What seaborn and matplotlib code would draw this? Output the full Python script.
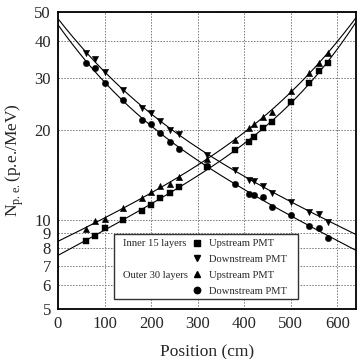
"""Light yield vs. position for inner/outer layers, with double-exponential fits."""

from __future__ import annotations

import matplotlib

matplotlib.use("Agg")
import matplotlib.pyplot as plt  # noqa: E402
import numpy as np  # noqa: E402
import pandas as pd  # noqa: E402
import seaborn as sns  # noqa: E402
from matplotlib.lines import Line2D  # noqa: E402
from matplotlib.patches import Rectangle  # noqa: E402
from matplotlib.ticker import FixedLocator, NullLocator  # noqa: E402

# measured positions along the strip (cm)
POSITIONS = [60, 80, 100, 140, 180, 200, 220, 240, 260, 320,
             380, 410, 420, 440, 460, 500, 540, 560, 580]

# light yield (p.e./MeV)
INNER_UP = [8.5, 8.8, 9.35, 9.97, 10.7, 11.2, 11.85, 12.3, 12.85, 15.0,
            17.2, 18.3, 19.0, 20.3, 21.3, 24.9, 28.8, 31.6, 33.7]
INNER_DOWN = [36.3, 34.7, 31.3, 27.3, 23.8, 22.9, 21.5, 20.1, 19.4, 16.5,
              14.7, 13.6, 13.5, 13.0, 12.3, 11.5, 10.6, 10.45, 9.84]
OUTER_UP = [9.3, 9.9, 10.05, 10.9, 11.8, 12.4, 13.0, 13.2, 13.9, 16.0,
            18.5, 20.3, 21.0, 22.2, 23.1, 27.1, 31.1, 33.7, 36.3]
OUTER_DOWN = [33.7, 32.3, 28.8, 25.3, 21.6, 21.0, 19.5, 18.3, 17.25, 15.2,
              13.2, 12.2, 12.1, 11.9, 11.0, 10.4, 9.5, 9.4, 8.65]

GROUP_LABELS = ["Inner 15 layers", "Outer 30 layers"]
X_TICKS = [0, 100, 200, 300, 400, 500, 600]
Y_TICKS = [5, 6, 7, 8, 9, 10, 20, 30, 40, 50]
X_RANGE = (0, 640)
Y_RANGE = (5, 50)

W, H = 357, 359
AX_BOX = (58, 12, 356, 309)  # left, top, right, bottom in pixels


def fit_double_exp(x, y, rising):
    """Least-squares fit of A*exp(-d/l1) + B*exp(-d/l2), d = distance to PMT."""
    x = np.asarray(x, float)
    y = np.asarray(y, float)
    d = (X_RANGE[1] - x) if rising else x
    best = None
    for l1 in np.arange(20, 400, 5):
        for l2 in np.arange(150, 4000, 25):
            if l2 <= l1 * 1.5:
                continue
            m = np.column_stack([np.exp(-d / l1), np.exp(-d / l2)]) / y[:, None]
            coef, *_ = np.linalg.lstsq(m, np.ones_like(y), rcond=None)
            if (coef < 0).any():
                continue
            res = ((m @ coef - 1) ** 2).sum()
            if best is None or res < best[0]:
                best = (res, l1, l2, coef)
    _, l1, l2, coef = best

    def model(xx):
        dd = (X_RANGE[1] - xx) if rising else xx
        return coef[0] * np.exp(-dd / l1) + coef[1] * np.exp(-dd / l2)

    return model


def px_to_axes(px, py):
    left, top, right, bottom = AX_BOX
    return (px - left) / (right - left), (bottom - py) / (bottom - top)


def main() -> None:
    sns.set_style("ticks")
    plt.rcParams["font.family"] = ["Liberation Serif", "DejaVu Serif"]
    plt.rcParams["mathtext.fontset"] = "custom"
    plt.rcParams["mathtext.rm"] = "Liberation Serif"

    left, top, right, bottom = AX_BOX
    fig = plt.figure(figsize=(W / 100, H / 100), dpi=100)
    ax = fig.add_axes([left / W, 1 - bottom / H, (right - left) / W, (bottom - top) / H])

    series = [
        ("Upstream PMT", INNER_UP, "s", 4.2, True),
        ("Downstream PMT", INNER_DOWN, "v", 4.6, False),
        ("Upstream PMT", OUTER_UP, "^", 4.6, True),
        ("Downstream PMT", OUTER_DOWN, "o", 4.6, False),
    ]

    xx = np.linspace(X_RANGE[0], X_RANGE[1], 400)
    for _, vals, marker, ms, rising in series:
        df = pd.DataFrame({"pos": POSITIONS, "npe": vals})
        sns.scatterplot(data=df, x="pos", y="npe", marker=marker, color="black",
                        s=ms ** 2, edgecolor="black", linewidth=0.3,
                        ax=ax, zorder=3, legend=False)
        model = fit_double_exp(POSITIONS, vals, rising)
        fit = pd.DataFrame({"pos": xx, "npe": model(xx)})
        sns.lineplot(data=fit, x="pos", y="npe", color="black", linewidth=0.8,
                     ax=ax, zorder=2, legend=False)

    ax.set_yscale("log")
    ax.set_xlim(*X_RANGE)
    ax.set_ylim(*Y_RANGE)
    ax.xaxis.set_major_locator(FixedLocator(X_TICKS))
    ax.yaxis.set_major_locator(FixedLocator(Y_TICKS))
    ax.yaxis.set_minor_locator(NullLocator())
    ax.set_yticklabels([str(t) for t in Y_TICKS])
    ax.grid(True, which="major", color="#777777", linestyle=(0, (1.5, 1.5)), linewidth=0.7)
    ax.tick_params(direction="in", length=0, labelsize=12, pad=5)
    for sp in ax.spines.values():
        sp.set_linewidth(1.3)
        sp.set_color("black")

    ax.set_xlabel("Position (cm)", fontsize=12.5, labelpad=9)
    ax.set_ylabel(r"N$_{\rm p.e.}$(p.e./MeV)", fontsize=12.5, labelpad=6)

    # legend: markers + PMT labels, framed box drawn separately with group labels
    handles = [Line2D([], [], marker=m, color="black", linestyle="none", markersize=ms)
               for _, _, m, ms, _ in series]
    labels = [lab for lab, *_ in series]
    leg = ax.legend(handles, labels, loc="upper left",
                    bbox_to_anchor=px_to_axes(192, 239), fontsize=7.6,
                    frameon=False, handlelength=1.0, handletextpad=0.6,
                    labelspacing=0.6, borderpad=0, borderaxespad=0)
    leg.set_zorder(6)

    x0, y0 = px_to_axes(114, 299)
    x1, y1 = px_to_axes(298, 234)
    ax.add_patch(Rectangle((x0, y0), x1 - x0, y1 - y0, transform=ax.transAxes,
                           facecolor="white", edgecolor="#333333", linewidth=1.0,
                           zorder=5))

    fig.canvas.draw()
    inv = ax.transAxes.inverted()
    texts = leg.get_texts()
    for label, row in zip(GROUP_LABELS, (0, 2)):
        bb = texts[row].get_window_extent()
        _, ty = inv.transform(((bb.x0 + bb.x1) / 2, (bb.y0 + bb.y1) / 2))
        gx, _ = px_to_axes(123, 0)
        ax.text(gx, ty, label, transform=ax.transAxes, fontsize=7.6,
                ha="left", va="center", zorder=6)

    fig.savefig("out.png", dpi=100)
    plt.close(fig)


if __name__ == "__main__":
    main()
